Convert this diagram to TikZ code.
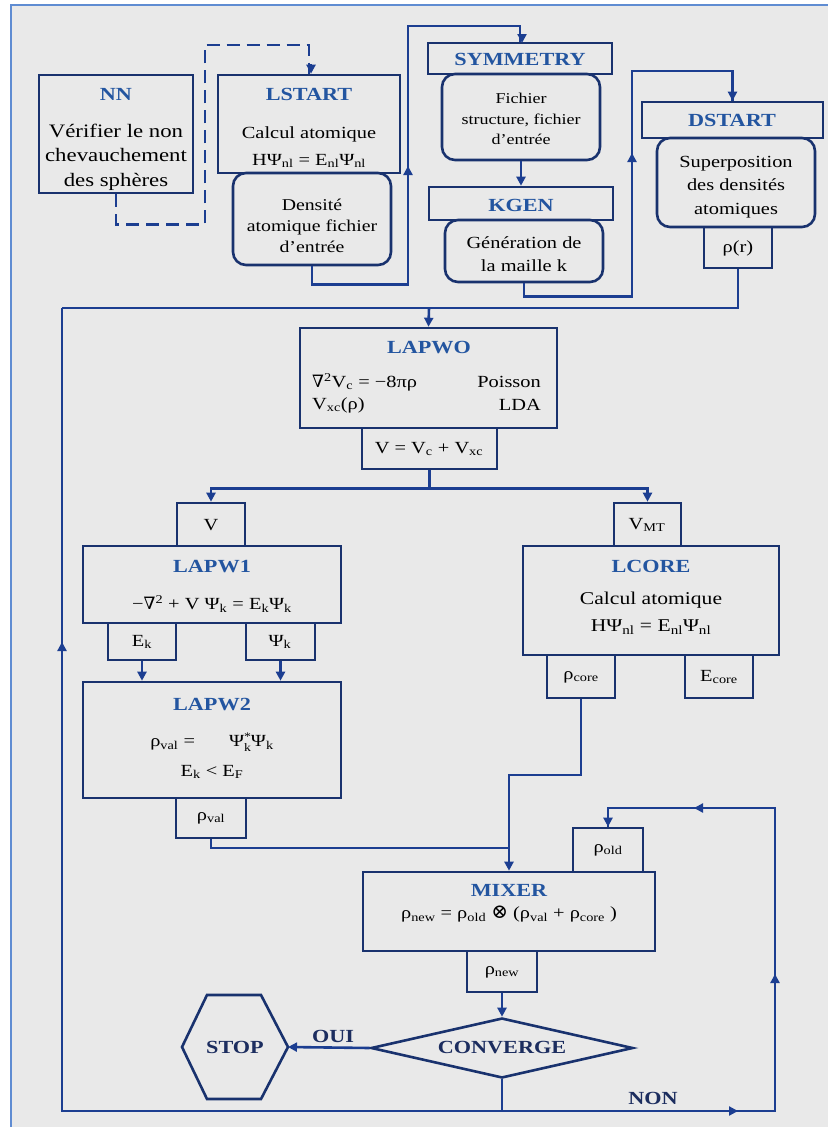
\documentclass[tikz,border=0pt]{standalone}
\usepackage{fontspec}
\setmainfont{Liberation Serif}[FakeStretch=1.2]
\newfontfamily\symfont{DejaVu Serif}
\usetikzlibrary{arrows.meta,shapes.geometric}
\definecolor{bgcol}{RGB}{233,233,233}
\definecolor{framecol}{RGB}{95,140,210}
\definecolor{wirecol}{RGB}{28,62,145}
\definecolor{boxcol}{RGB}{25,50,110}
\definecolor{ttlcol}{RGB}{35,85,160}
\definecolor{darkcol}{RGB}{28,45,95}
\newcommand\ttlfont{\fontsize{18.5}{20}\selectfont\bfseries}
\newcommand\bodyfont{\fontsize{17}{24}\selectfont}
\newcommand\smfont{\fontsize{15}{20.5}\selectfont}
\newcommand\sub[1]{\textsubscript{#1}}
\newcommand\bx[6]{\node[#6, minimum width={#4-#2}, minimum height={#5-#3}] (#1) at ({(#2+#4)/2},{(#3+#5)/2}) {};}
\tikzset{
  every node/.style={inner sep=0pt},
  box/.style={draw=boxcol, line width=2.6pt},
  rbox/.style={box, rounded corners=13pt},
  wire/.style={draw=wirecol, line width=2.6pt},
  arr/.style={wire, -{Triangle[length=9pt,width=9pt]}},
  ttl/.style={font=\ttlfont, text=ttlcol},
  dk/.style={font=\ttlfont, text=darkcol},
  body/.style={font=\bodyfont, align=center},
  sm/.style={font=\smfont, align=center},
}
\begin{document}
\begin{tikzpicture}[x=1pt,y=-1pt]
\useasboundingbox (0,0) rectangle (828,1127);
\fill[white] (0,0) rectangle (828,1127);
\fill[bgcol] (11,5) rectangle (828,1127);
\draw[framecol, line width=2pt] (11,1127) -- (11,5) -- (828,5);
% ---------- top boxes
\bx{nn}{39}{75}{193}{193}{box}
\node[ttl] (nnT) at (116,94) {NN};
\node[body,font=\fontsize{19}{24.5}\selectfont] (nnB) at (116,157) {Vérifier le non\\chevauchement\\des sphères};
\bx{lstart}{218}{75}{400}{173}{box}
\node[ttl] (lsT) at (309,94) {LSTART};
\node[body,font=\fontsize{17}{27}\selectfont] (lsB) at (309,147) {Calcul atomique\\HΨ\sub{nl} = E\sub{nl}Ψ\sub{nl}};
\bx{dens}{233}{173}{391}{265}{rbox}
\node[sm,font=\fontsize{16.5}{21}\selectfont] (densT) at (312,226) {Densité\\atomique fichier\\d’entrée};
\bx{sym}{428}{43}{612}{74}{box}
\node[ttl] (symT) at (520,59) {SYMMETRY};
\bx{symb}{442}{74}{600}{160}{rbox}
\node[sm] (symbT) at (521,119) {Fichier\\structure, fichier\\d’entrée};
\bx{kgen}{429}{187}{613}{220}{box}
\node[ttl] (kgT) at (521,205) {KGEN};
\bx{kgenb}{445}{220}{603}{282}{rbox}
\node[body,font=\fontsize{17}{22.5}\selectfont] (kgbT) at (524,254) {Génération de\\la maille k};
\bx{dstart}{642}{102}{823}{138}{box}
\node[ttl] (dsT) at (732,120) {DSTART};
\bx{dsb}{657}{138}{815}{227}{rbox}
\node[body,font=\fontsize{17}{23.5}\selectfont] (dsbT) at (736,187) {Superposition\\des densités\\atomiques};
\bx{rhor}{704}{227}{772}{268}{box}
\node[body] (rhorT) at (738,248) {ρ(r)};
% ---------- LAPW0
\bx{lapw0}{300}{328}{557}{428}{box}
\node[ttl] (l0T) at (429,348) {LAPWO};
\node[body,anchor=west] (l0a) at (312,382) {{\symfont∇}\textsuperscript{2}V\sub{c} = −8πρ};
\node[body,anchor=east] (l0b) at (541,382) {Poisson};
\node[body,anchor=west] (l0c) at (312,405) {V\sub{xc}(ρ)};
\node[body,anchor=east] (l0d) at (541,405) {LDA};
\bx{vsum}{362}{428}{497}{469}{box}
\node[body] (vsumT) at (429,449) {V = V\sub{c} + V\sub{xc}};
% ---------- LAPW1 / LCORE
\bx{vbox}{177}{503}{245}{546}{box}
\node[body] (vT) at (211,525) {V};
\bx{vmt}{614}{503}{681}{546}{box}
\node[body] (vmtT) at (647,525) {V\sub{MT}};
\bx{lapw1}{83}{546}{341}{623}{box}
\node[ttl] (l1T) at (212,567) {LAPW1};
\node[body] (l1E) at (212,604) {−{\symfont∇}\textsuperscript{2} + V Ψ\sub{k} = E\sub{k}Ψ\sub{k}};
\bx{ek}{108}{623}{176}{660}{box}
\node[body] (ekT) at (142,642) {E\sub{k}};
\bx{psik}{246}{623}{315}{660}{box}
\node[body] (psikT) at (280,642) {Ψ\sub{k}};
\bx{lcore}{523}{546}{779}{655}{box}
\node[ttl] (lcT) at (651,566) {LCORE};
\node[body,font=\fontsize{18}{27}\selectfont] (lcB) at (651,613) {Calcul atomique\\HΨ\sub{nl} = E\sub{nl}Ψ\sub{nl}};
\bx{rhocore}{547}{655}{615}{698}{box}
\node[body] (rcT) at (581,677) {ρ\sub{core}};
\bx{ecore}{685}{655}{753}{698}{box}
\node[body] (ecT) at (719,677) {E\sub{core}};
% ---------- LAPW2
\bx{lapw2}{83}{682}{341}{798}{box}
\node[ttl] (l2T) at (212,705) {LAPW2};
\node[body] (l2a) at (212,742) {ρ\sub{val} =\hspace{2em}Ψ\raisebox{-0.55ex}{\fontsize{11.5}{9}\selectfont\shortstack[l]{*\\k}}Ψ\sub{k}};
\node[body] (l2b) at (212,772) {E\sub{k} < E\sub{F}};
\bx{rhoval}{176}{798}{246}{838}{box}
\node[body] (rvT) at (211,818) {ρ\sub{val}};
% ---------- MIXER
\bx{rhoold}{573}{828}{643}{872}{box}
\node[body] (roT) at (608,850) {ρ\sub{old}};
\bx{mixer}{363}{872}{655}{951}{box}
\node[ttl] (mxT) at (509,890) {MIXER};
\node[body] (mxE) at (509,914) {ρ\sub{new} = ρ\sub{old} {\symfont\fontsize{20}{20}\selectfont⊗} (ρ\sub{val} + ρ\sub{core} )};
\bx{rhonew}{467}{951}{537}{992}{box}
\node[body] (rnT) at (502,972) {ρ\sub{new}};
\node[box, diamond, minimum width=262pt, minimum height=60pt, aspect=4.4, dk] (conv) at (502,1048) {CONVERGE};
\draw[box] (182,1047) -- (207,995) -- (261,995) -- (288,1047) -- (261,1099) -- (207,1099) -- cycle;
\node[dk] (stop) at (235,1047) {STOP};
\coordinate (stopR) at (288,1047);
\node[dk] (oui) at (333,1036) {OUI};
\node[dk] (non) at (653,1098) {NON};
% ---------- connectors top
\draw[wire, dash pattern=on 13pt off 7pt] (nn.south) -- ++(0,30) -| (205,45) -| (lstart.north);
\draw[arr] (311,64) -- (lstart.north -| 311,0);
\draw[wire] (dens.south) -- ++(0,18) -| (408,26) -| (sym.north);
\draw[arr] (522,34) -- (522,43);
\draw[arr] (408,178) -- (408,166);
\draw[arr] (symb.south) -- (kgen.north);
\draw[wire] (kgenb.south) -- ++(0,13) -| (632,71) -| (dstart.north);
\draw[arr] (dstart.north) ++(0,-10) -- (dstart.north);
\draw[arr] (632,165) -- (632,153);
\coordinate (topbus) at (429,308);
\draw[wire] (rhor.south) |- (62,308);
\draw[arr] (topbus) -- (lapw0.north);
% ---------- LAPW0 outputs
\draw[arr] (vsum.south) -- ++(0,18) -| (vbox.north);
\draw[arr] (vsum.south) -- ++(0,18) -| (vmt.north);
\draw[arr] (ek.south) -- (ek.south |- lapw2.north);
\draw[arr] (psik.south) -- (psik.south |- lapw2.north);
% ---------- to MIXER
\coordinate (j1) at (509,775);
\coordinate (j2) at (509,848);
\draw[wire] (rhoval.south) |- (j2);
\draw[arr] (rhocore.south) |- (j1) -- (mixer.north);
\draw[arr] (rhonew.south) -- (conv.north);
\draw[arr] (conv.west) -- (stopR);
% ---------- loops
\coordinate (bot) at (502,1111);
\draw[wire] (conv.south) -- (bot) -- (62,1111) -- (62,308);
\draw[arr] (62,654) -- (62,642);
\draw[wire] (bot) -- (775,1111) -- (775,808) -| (rhoold.north);
\draw[arr] (rhoold.north) ++(0,-10) -- (rhoold.north);
\draw[arr] (726,1111) -- (738,1111);
\draw[arr] (775,986) -- (775,974);
\draw[arr] (706,808) -- (694,808);
\end{tikzpicture}
\end{document}
